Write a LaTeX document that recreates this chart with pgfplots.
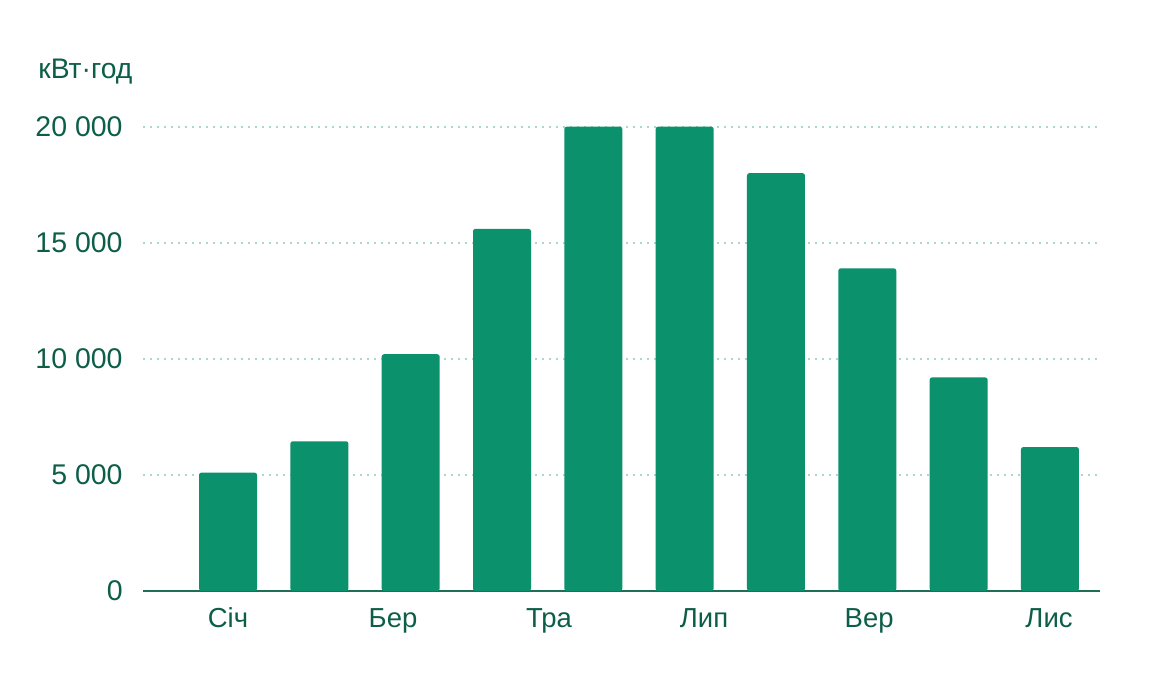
\documentclass[border=0pt]{standalone}
\usepackage{pgfplots}
\pgfplotsset{compat=1.18}
\usepackage{fontspec}
\setmainfont{Liberation Sans}
\definecolor{barc}{HTML}{0B916B}
\definecolor{txtc}{HTML}{0D5E48}
\definecolor{axc}{HTML}{1E6E58}
\definecolor{gridc}{HTML}{A9D9C8}
\begin{document}
\begin{tikzpicture}
\path[use as bounding box] (0,0) rectangle (574.5bp,343.5bp);
% background axis: y tick labels and grid
\begin{axis}[
  at={(71.5bp,48bp)}, anchor=south west,
  scale only axis,
  width=478.5bp, height=232.15bp,
  xmin=-0.931, xmax=9.548,
  ymin=0, ymax=20000,
  axis line style={draw=none},
  xtick=\empty,
  scaled y ticks=false,
  ytick={0,5000,10000,15000,20000},
  yticklabels={0,5 000,10 000,15 000,20 000},
  major tick length=0pt,
  ymajorgrids,
  grid style={draw=gridc, dash pattern=on 0.9bp off 2.6bp, line width=0.9bp},
  yticklabel style={anchor=east, inner sep=0pt, xshift=-10bp, font=\fontsize{14.3}{16}\selectfont, text=txtc},
]
\end{axis}
% bars and x axis
\begin{axis}[
  at={(71.5bp,48bp)}, anchor=south west,
  scale only axis,
  width=478.5bp, height=232.15bp,
  xmin=-0.931, xmax=9.548,
  ymin=0, ymax=20000,
  clip=false,
  axis x line*=bottom,
  axis y line=none,
  x axis line style={draw=axc, line width=0.9bp, -},
  xtick={0,1.807,3.515,5.212,7.02,8.99},
  xticklabels={Січ,Бер,Тра,Лип,Вер,Лис},
  major tick length=0pt,
  xticklabel style={anchor=base, yshift=-18.5bp, font=\fontsize{13.8}{16}\selectfont, text=txtc},
  ytick=\empty,
  ybar, bar width=0.635,
]
\addplot[fill=barc, draw=none, rounded corners=1.2bp] coordinates {
(0,5100) (1,6450) (2,10200) (3,15600) (4,20000) (5,20000) (6,18000) (7,13900) (8,9200) (9,6200)};
\end{axis}
\node[anchor=base west, inner sep=0pt, text=txtc, font=\fontsize{14.2}{16}\selectfont] at (19bp,304bp) {кВт·год};
\end{tikzpicture}
\end{document}
